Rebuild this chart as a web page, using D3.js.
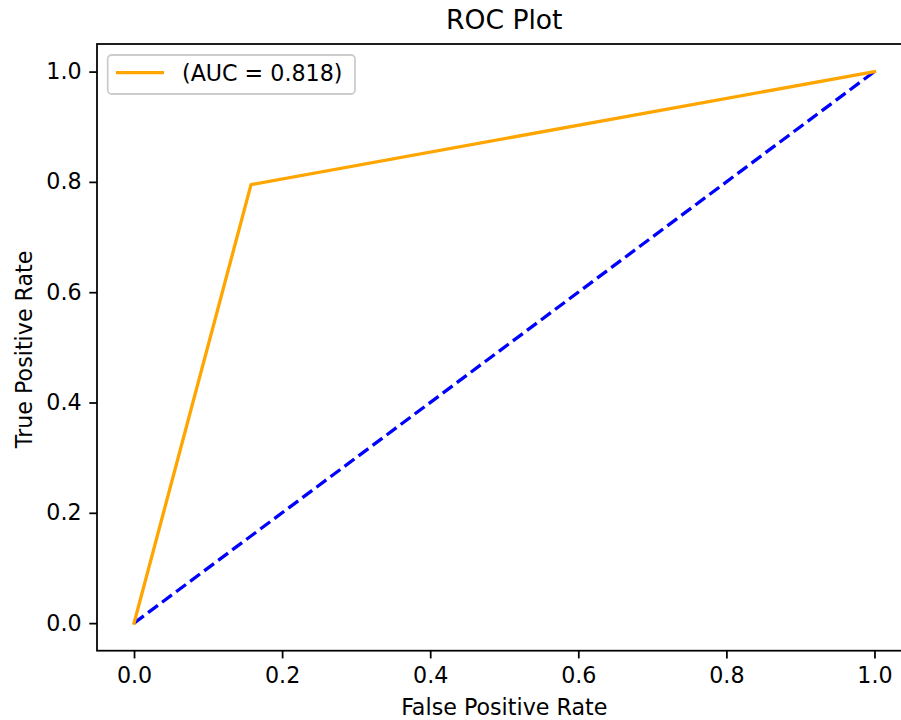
<!DOCTYPE html>
<html><head><meta charset="utf-8">
<script src="https://cdn.jsdelivr.net/npm/d3@7"></script>
<style>body{margin:0;background:#fff}svg{display:block}text{font-family:"DejaVu Sans",sans-serif;fill:#000}</style>
</head><body>
<script>
const rocFPR = [0.0, 0.158, 1.0];
const rocTPR = [0.0, 0.795, 1.0];
const diagFPR = [0.0, 1.0];
const diagTPR = [0.0, 1.0];
const tickValues = [0.0, 0.2, 0.4, 0.6, 0.8, 1.0];
const legendLabel = "(AUC = 0.818)";
const titleText = "ROC Plot";
const xLabel = "False Positive Rate";
const yLabel = "True Positive Rate";

const W = 901, H = 720;
const L = 97, R = 911.5, T = 44, B = 650.7;
const FS = 22.2;
const svg = d3.select("body").append("svg").attr("width", W).attr("height", H);
const x = d3.scaleLinear().domain([-0.05, 1.05]).range([L, R]);
const y = d3.scaleLinear().domain([-0.05, 1.05]).range([B, T]);

svg.append("defs").append("clipPath").attr("id","c").append("rect")
  .attr("x", L).attr("y", T).attr("width", R-L).attr("height", B-T);

const line = d3.line().x(d => x(d[0])).y(d => y(d[1]));
const g = svg.append("g").attr("clip-path","url(#c)");
g.append("path").datum(diagFPR.map((v,i)=>[v,diagTPR[i]])).attr("d", line)
  .attr("fill","none").attr("stroke","#0000ff").attr("stroke-width",3.3)
  .attr("stroke-dasharray","12.2,5.3");
g.append("path").datum(rocFPR.map((v,i)=>[v,rocTPR[i]])).attr("d", line)
  .attr("fill","none").attr("stroke","#ffa500").attr("stroke-width",3.3)
  .attr("stroke-linejoin","round").attr("stroke-linecap","square");

// axes
const xAxis = d3.axisBottom(x).tickValues(tickValues).tickFormat(d3.format(".1f")).tickSize(7.7).tickPadding(7.7);
const yAxis = d3.axisLeft(y).tickValues(tickValues).tickFormat(d3.format(".1f")).tickSize(7.7).tickPadding(7.7);
const gx = svg.append("g").attr("transform",`translate(0,${B})`).call(xAxis);
const gy = svg.append("g").attr("transform",`translate(${L},0)`).call(yAxis);
[gx, gy].forEach(a => {
  a.select(".domain").remove();
  a.selectAll(".tick line").attr("stroke","#000").attr("stroke-width",1.76);
  a.selectAll(".tick text").attr("font-size",FS).attr("font-family","DejaVu Sans").attr("fill","#000");
});
gx.selectAll(".tick text").attr("dy","0.76em");
// spines
svg.append("rect").attr("x",L).attr("y",T).attr("width",R-L).attr("height",B-T)
  .attr("fill","none").attr("stroke","#000").attr("stroke-width",1.76);

// title & labels
svg.append("text").attr("x",(L+R)/2).attr("y",29).attr("text-anchor","middle").attr("font-size",26.6).text(titleText);
svg.append("text").attr("x",(L+R)/2).attr("y",715).attr("text-anchor","middle").attr("font-size",FS).text(xLabel);
svg.append("text").attr("transform",`translate(31.5,${(T+B)/2+2}) rotate(-90)`).attr("text-anchor","middle").attr("font-size",FS).text(yLabel);

// legend
const lg = svg.append("g");
lg.append("rect").attr("x",107.7).attr("y",55).attr("width",247.3).attr("height",39).attr("rx",4)
  .attr("fill","#fff").attr("fill-opacity",0.8).attr("stroke","#cccccc").attr("stroke-width",1.76);
lg.append("line").attr("x1",116).attr("x2",164).attr("y1",72.7).attr("y2",72.7)
  .attr("stroke","#ffa500").attr("stroke-width",3.3);
lg.append("text").attr("x",182).attr("y",80.5).attr("font-size",FS).text(legendLabel);
</script>
</body></html>
